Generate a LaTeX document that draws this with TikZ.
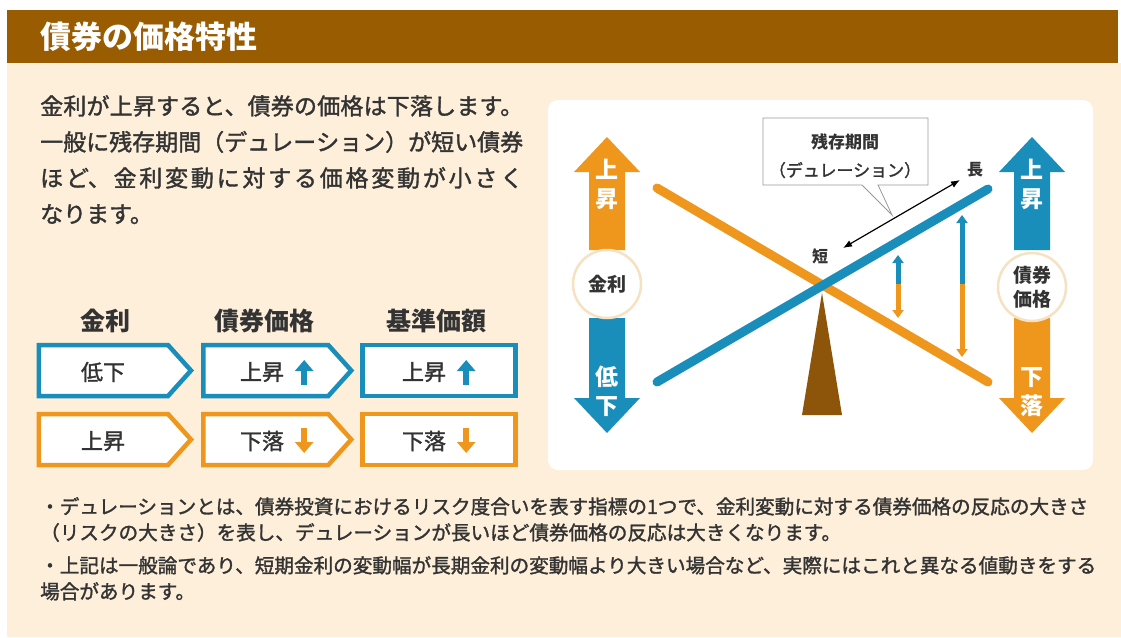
\documentclass[tikz,border=0pt]{standalone}
\usepackage{fontspec}
\setmainfont{Noto Sans CJK JP}
\newfontfamily\medfont{Noto Sans CJK JP}[FakeBold=1.5]
\usetikzlibrary{arrows.meta, positioning, shapes.symbols, shapes.callouts}
\definecolor{bondbrown}{HTML}{995C00}
\definecolor{bondcream}{HTML}{FDEFDA}
\definecolor{bondblue}{HTML}{1A8EBB}
\definecolor{bondorange}{HTML}{EF961C}
\definecolor{fulcrumbrown}{HTML}{8C5509}
\definecolor{inkgray}{HTML}{333333}
\definecolor{ringcream}{HTML}{F6E2C2}
\newcommand{\pxsize}[2]{\fontsize{#1}{#2}\selectfont}
\newcommand{\jajustify}{\XeTeXlinebreaklocale "ja"\XeTeXlinebreakskip=0pt plus 3pt minus 0.5pt\relax}

\begin{document}
\begin{tikzpicture}[x=1pt, y=-1pt, >=Stealth,
  cellbox/.style={signal, signal to=east, signal from=nowhere, signal pointer angle=96,
    draw, line width=4.5pt, fill=white, minimum width=152pt, minimum height=51pt, inner sep=0pt},
  lastbox/.style={rectangle, draw, line width=4.5pt, fill=white,
    minimum width=153pt, minimum height=51pt, inner sep=0pt},
  celltxt/.style={font=\medfont\pxsize{22}{26}, text=inkgray, inner sep=0pt},
  colhead/.style={font=\bfseries\pxsize{25}{30}, text=inkgray},
  fatarrow/.style={line width=6pt, -{Triangle[width=18pt,length=11pt]}},
  gauge/.style={line width=5pt, -{Triangle[width=11pt,length=8pt]}},
  beam/.style={line width=9pt, line cap=round},
  ring/.style={circle, fill=white, draw=ringcream, line width=2.5pt, minimum size=68pt,
    inner sep=0pt, align=center, font=\bfseries\pxsize{19}{24}, text=inkgray},
  bigtxt/.style={text=white, align=center, font=\bfseries\pxsize{23}{29}},
  durtxt/.style={font=\bfseries\pxsize{16}{20}, text=inkgray, inner sep=0pt},
  notetxt/.style={anchor=north west, align=left, inner sep=0pt, text=inkgray,
    font=\medfont\pxsize{19.6}{26}}]
  \useasboundingbox (0,0) rectangle (1121,637);
  \fill[white] (0,0) rectangle (1121,637);
  \fill[bondcream] (7,63) rectangle (1121,637);
  \fill[bondbrown] (7,10) rectangle (1118,63);
  \node[anchor=west, text=white, font=\bfseries\pxsize{31}{36}, inner sep=0pt] (title) at (40,37) {債券の価格特性};

  \node[anchor=north west, align=justify, text width=483pt, inner sep=0pt, text=inkgray,
    font=\medfont\pxsize{23}{36}\jajustify] (intro) at (40,95)
    {金利が上昇すると、債券の価格は下落します。\linebreak 一般に残存期間（デュレーション）が短い債券\linebreak ほど、金利変動に対する価格変動が小さく\linebreak なります。};

  % table
  \node[colhead] (hrate) at (105,321) {金利};
  \node[colhead] (hprice) at (264,321) {債券価格};
  \node[colhead] (hnav) at (436,321) {基準価額};

  \node[cellbox, draw=bondblue] (rate1) at (103.5,370.5) {};
  \node[cellbox, draw=bondblue, minimum width=148pt, right=7pt of rate1] (price1) {};
  \node[lastbox, draw=bondblue, right=6pt of price1] (nav1) {};
  \node[cellbox, draw=bondorange] (rate2) at (103.5,439.5) {};
  \node[cellbox, draw=bondorange, minimum width=148pt, right=7pt of rate2] (price2) {};
  \node[lastbox, draw=bondorange, right=6pt of price2] (nav2) {};

  \node[celltxt] (t11) at (103,372) {低下};
  \node[celltxt] (t12) at (262,372) {上昇};
  \node[celltxt] (t13) at (424,372) {上昇};
  \node[celltxt] (t21) at (103,441) {上昇};
  \node[celltxt] (t22) at (262,441) {下落};
  \node[celltxt] (t23) at (424,441) {下落};
  \foreach \t in {t12,t13}
    \draw[fatarrow, bondblue] ([xshift=20pt,yshift=-13pt]\t.east) -- ++(0,-25);
  \foreach \t in {t22,t23}
    \draw[fatarrow, bondorange] ([xshift=20pt,yshift=13pt]\t.east) -- ++(0,25);

  % seesaw panel
  \fill[white, rounded corners=10pt] (548,100) rectangle (1093,470);
  \foreach \x/\ya/\yb/\yc/\col in {607/250/172/137/bondorange, 607/318/398/433/bondblue,
      1032/250/172/137/bondblue, 1032/318/398/433/bondorange}
    \fill[\col] (\x-18,\ya) -- (\x-18,\yb) -- (\x-33,\yb) -- (\x,\yc) -- (\x+33,\yb)
      -- (\x+18,\yb) -- (\x+18,\ya) -- cycle;
  \node[ring] (rate) at (607,284) {金利};
  \node[ring] (price) at (1032,287) {債券\\価格};
  \node[bigtxt] (rateup) at (607,184) {上\\昇};
  \node[bigtxt] (ratedown) at (607,391) {低\\下};
  \node[bigtxt] (priceup) at (1032,184) {上\\昇};
  \node[bigtxt] (pricedown) at (1032,392) {下\\落};

  \fill[fulcrumbrown] (822,293) -- (842,415) -- (802,415) -- cycle;
  \coordinate (ratehi) at (657,188);
  \coordinate (ratelo) at (988,382);
  \coordinate (pricelo) at (657,382);
  \coordinate (pricehi) at (988,189);
  \draw[beam, bondorange] (ratehi) -- (ratelo);
  \draw[beam, bondblue] (pricelo) -- (pricehi);

  \coordinate (gs) at (898,284);
  \coordinate (gl) at (962,284);
  \draw[gauge, bondblue] (gs) -- (898,255);
  \draw[gauge, bondorange] (gs) -- (898,318);
  \draw[gauge, bondblue] (gl) -- (962,215);
  \draw[gauge, bondorange] (gl) -- (962,357);

  \node[rectangle callout, draw=gray!80, fill=white, line width=0.8pt,
    callout absolute pointer={(892,215)}, callout pointer width=16pt,
    minimum width=165pt, minimum height=67pt] (duration) at (845.5,151.5) {};
  \node[align=center, text=inkgray, font=\pxsize{17}{28}] (durationtxt) at (845,156)
    {\textbf{残存期間}\\{\medfont（デュレーション）}};
  \node[durtxt] (short) at (820,256) {短};
  \node[durtxt] (long) at (975,170) {長};
  \coordinate (durs) at (843,248);
  \coordinate (durl) at (960,180);
  \draw[{Latex[length=9pt,width=7pt]}-{Latex[length=9pt,width=7pt]}, line width=1.2pt] (durs) -- (durl);

  % notes
  \node[notetxt] (note1) at (40,497)
    {・デュレーションとは、債券投資におけるリスク度合いを表す指標の1つで、金利変動に対する債券価格の反応の大きさ\\（リスクの大きさ）を表し、デュレーションが長いほど債券価格の反応は大きくなります。};
  \node[notetxt] (note2) at (40,556)
    {・上記は一般論であり、短期金利の変動幅が長期金利の変動幅より大きい場合など、実際にはこれと異なる値動きをする\\場合があります。};
\end{tikzpicture}
\end{document}
